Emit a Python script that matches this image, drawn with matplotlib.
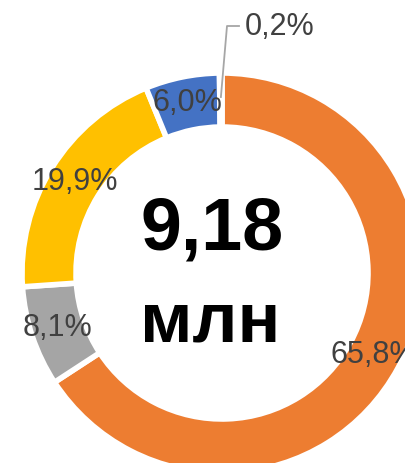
import numpy as np
import matplotlib
matplotlib.use("Agg")
import matplotlib.pyplot as plt

plt.rcParams['font.family'] = ['Liberation Sans', 'DejaVu Sans']

labels = ["65,8%", "8,1%", "19,9%", "6,0%", "0,2%"]
values = [65.8, 8.1, 19.9, 6.0, 0.2]
colors = ["#ED7D31", "#A5A5A5", "#FFC000", "#4472C4", "#5B9BD5"]
center_value = "9,18"
center_unit = "млн"

W, H = 406, 463
fig = plt.figure(figsize=(W / 100, H / 100), dpi=100)
cx, cy, R = 222, 273, 200  # pixel center (from top) and outer radius
ax = fig.add_axes([(cx - R) / W, (H - cy - R) / H, 2 * R / W, 2 * R / H])
ax.axis('off')

wedges, _ = ax.pie(values, colors=colors, startangle=90, counterclock=False,
                   radius=1.0, center=(0, 0),
                   wedgeprops=dict(width=0.27, edgecolor='white', linewidth=4))
ax.set_xlim(-1, 1)
ax.set_ylim(-1, 1)

txtc = "#404040"
fs = 22
for w, lab in zip(wedges[:4], labels[:4]):
    ang = np.deg2rad((w.theta1 + w.theta2) / 2)
    r = 0.865
    ax.text(r * np.cos(ang), r * np.sin(ang), lab, ha='center', va='center',
            fontsize=fs, color=txtc, clip_on=False)

# small slice label with leader line
w = wedges[4]
ang = np.deg2rad((w.theta1 + w.theta2) / 2)
px, py = np.cos(ang) * 0.88, np.sin(ang) * 0.88
ax.plot([px, 0.025, 0.085], [py, 1.235, 1.235], color="#A6A6A6", lw=1.3,
        clip_on=False)
ax.text(0.115, 1.23, labels[4], ha='left', va='center', fontsize=fs,
        color=txtc, clip_on=False)

ax.text(-0.05, 0.215, center_value, ha='center', va='center', fontsize=53,
        fontweight='bold', color='black')
ax.text(-0.06, -0.25, center_unit, ha='center', va='center', fontsize=51,
        fontweight='bold', color='black')

fig.savefig("out.png", dpi=100)
